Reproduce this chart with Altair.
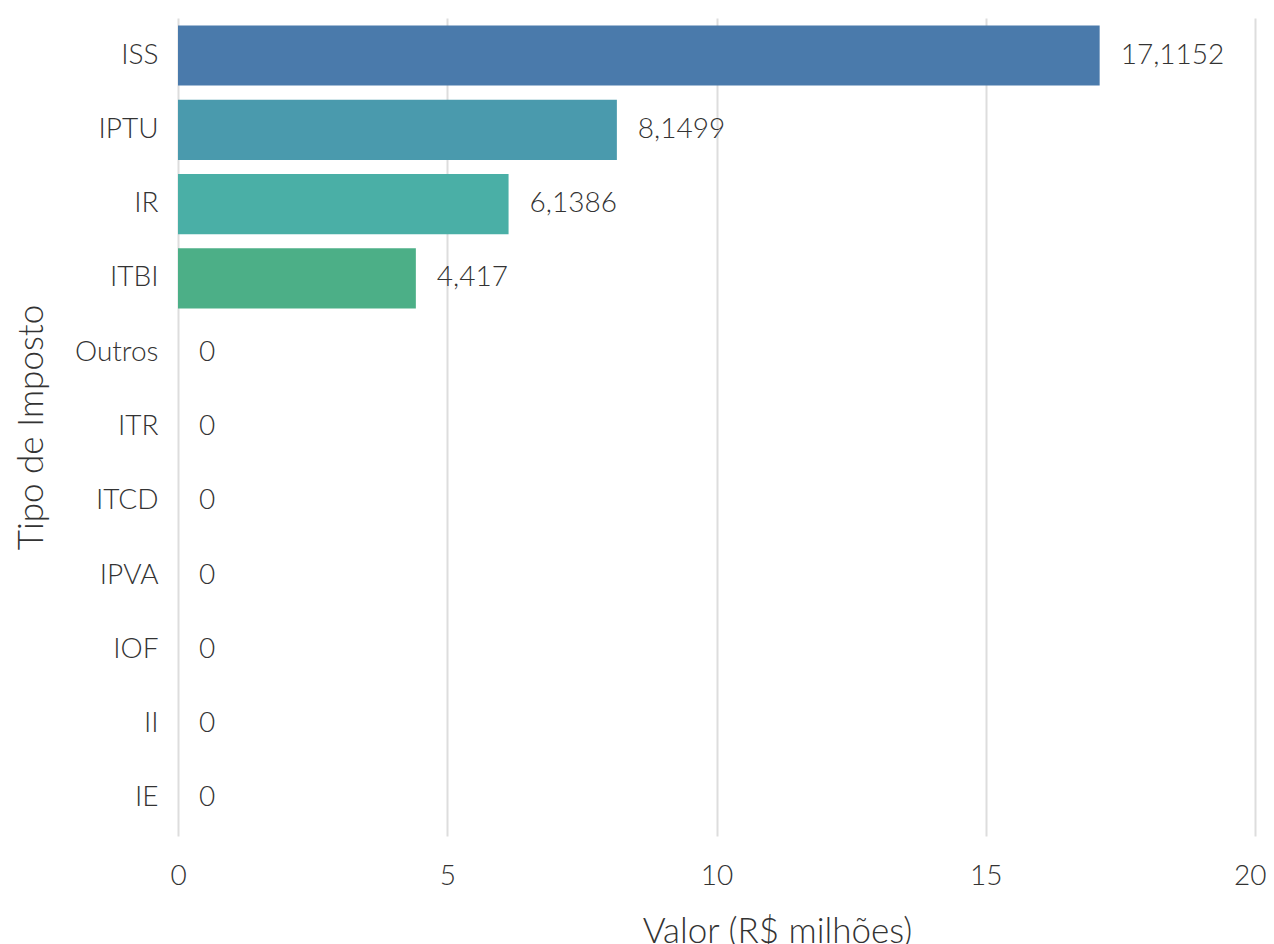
import altair as alt
import pandas as pd

categorias = ["ISS", "IPTU", "IR", "ITBI", "Outros", "ITR", "ITCD", "IPVA", "IOF", "II", "IE"]
valores = [17.1152, 8.1499, 6.1386, 4.417, 0, 0, 0, 0, 0, 0, 0]
rotulos = ["17,1152", "8,1499", "6,1386", "4,417", "0", "0", "0", "0", "0", "0", "0"]
cores = ["#4a7aab", "#4a9aad", "#4aafa6", "#4caf87", "#5bb36f", "#6fb85c", "#86bc4c",
         "#9dbf40", "#b5c138", "#cbc235", "#e0c236"]

df = pd.DataFrame({"Tipo": categorias, "Valor": valores, "Rotulo": rotulos})

FONT = "Lato Light, Lato"

base = alt.Chart(df)

y_enc = alt.Y("Tipo:N", sort=categorias,
              scale=alt.Scale(paddingInner=0.19, paddingOuter=0.1),
              axis=alt.Axis(title="Tipo de Imposto", labelFontSize=28, labelFont=FONT,
                            labelFontWeight=300, labelColor="#333", labelPadding=20,
                            ticks=False, domain=False, titleFontSize=35, titleFont=FONT,
                            titleFontWeight=300, titleColor="#333", titleAngle=-90,
                            titleX=-147, titleY=409, titleBaseline="middle",
                            titleAlign="center"))

bars = base.mark_bar().encode(
    x=alt.X("Valor:Q", scale=alt.Scale(domain=[0, 20], nice=False),
            axis=alt.Axis(title="Valor (R$ milhões)", values=[0, 5, 10, 15, 20],
                          labelFontSize=28, labelFont=FONT, labelFontWeight=300,
                          labelColor="#333", labelPadding=26, labelFlush=False,
                          labelBound=False,
                          labelAlign=alt.expr("datum.value == 20 ? 'right' : 'center'"),
                          labelOffset=alt.expr("datum.value == 20 ? 11 : 0"),
                          ticks=False, domain=False,
                          grid=True, gridColor="#dddddd", gridWidth=2,
                          titleFontSize=35, titleFont=FONT, titleFontWeight=300,
                          titleColor="#333", titleX=599, titleY=106,
                          titleBaseline="alphabetic", titleAlign="center")),
    y=y_enc,
    color=alt.Color("Tipo:N", scale=alt.Scale(domain=categorias, range=cores), legend=None),
)

text = base.mark_text(align="left", baseline="middle", dx=21, fontSize=28, font=FONT,
                      fontWeight=300, color="#333").encode(
    x=alt.X("Valor:Q"),
    y=alt.Y("Tipo:N", sort=categorias),
    text="Rotulo:N",
)

chart = (bars + text).properties(
    width=1077, height=818,
    autosize=alt.AutoSizeParams(type="none"),
    padding={"left": 170, "top": 10, "right": 11, "bottom": 110},
).configure_view(stroke=None)

chart.save("out.html", embed_options={"renderer": "svg", "actions": False})
